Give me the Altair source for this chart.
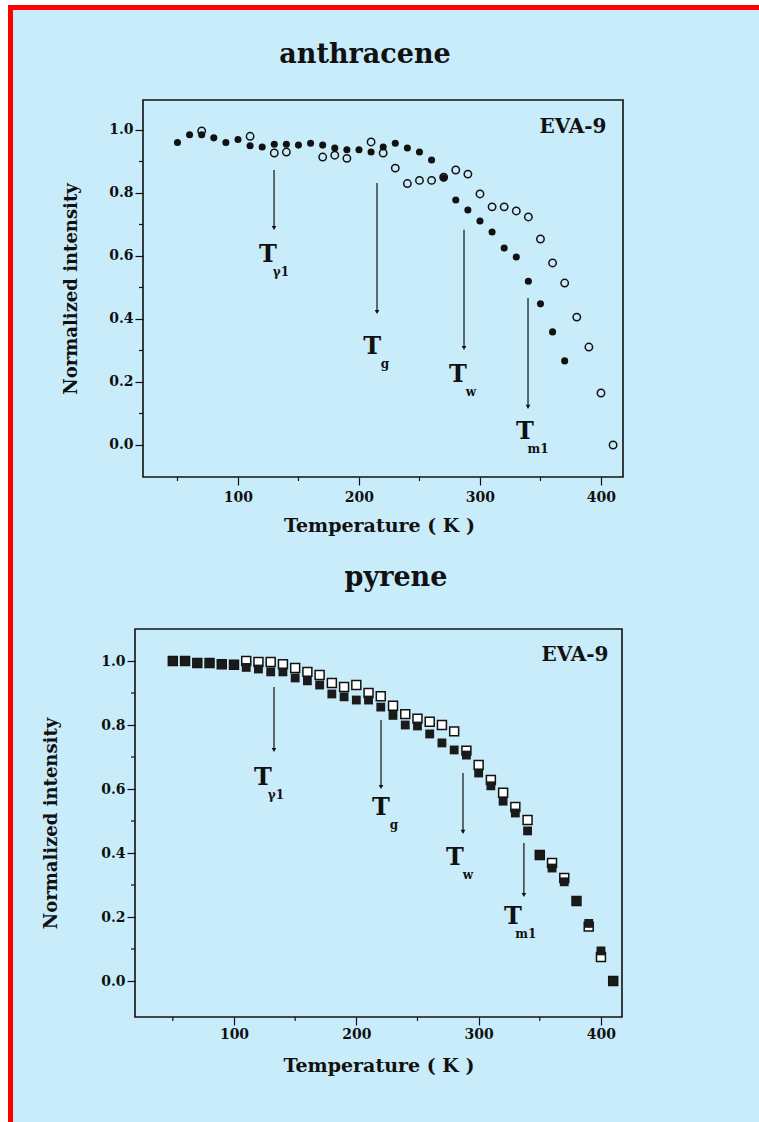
import altair as alt
import pandas as pd

BG = "#c9ecfa"
INK = "#111111"
FONT = "DejaVu Serif"

# ---------------- data ----------------
temps = [50, 60, 70, 80, 90, 100, 110, 120, 130, 140, 150, 160, 170, 180, 190,
         200, 210, 220, 230, 240, 250, 260, 270, 280, 290, 300, 310, 320, 330,
         340, 350, 360, 370, 380, 390, 400, 410]

anth_filled_temps = temps[:33]
anth_filled = [0.96, 0.985, 0.985, 0.975, 0.96, 0.97, 0.95, 0.946, 0.955, 0.955,
               0.952, 0.958, 0.952, 0.943, 0.937, 0.937, 0.93, 0.946, 0.958, 0.943,
               0.93, 0.905, 0.848, 0.778, 0.746, 0.711, 0.676, 0.625, 0.597, 0.52,
               0.448, 0.359, 0.267]
# open symbols that are visible (the rest are hidden under the filled ones)
anth_open_temps = [70, 110, 130, 140, 170, 180, 190, 210, 220, 230, 240, 250, 260,
                   270, 280, 290, 300, 310, 320, 330, 340, 350, 360, 370, 380, 390,
                   400, 410]
anth_open = [0.997, 0.98, 0.927, 0.93, 0.914, 0.92, 0.91, 0.962, 0.927, 0.879,
             0.83, 0.84, 0.84, 0.85, 0.873, 0.86, 0.797, 0.756, 0.756, 0.743,
             0.724, 0.654, 0.578, 0.514, 0.406, 0.311, 0.165, 0.0]

pyr_filled = [1.0, 1.0, 0.994, 0.994, 0.99, 0.988, 0.98, 0.975, 0.966, 0.966,
              0.947, 0.938, 0.925, 0.897, 0.888, 0.878, 0.878, 0.856, 0.83, 0.8,
              0.797, 0.772, 0.744, 0.722, 0.706, 0.65, 0.61, 0.562, 0.525, 0.469,
              0.394, 0.353, 0.31, 0.25, 0.18, 0.094, 0.0]
pyr_open = [1.0, 1.0, 0.994, 0.994, 0.99, 0.988, 1.0, 0.997, 0.997, 0.99,
            0.978, 0.966, 0.956, 0.931, 0.919, 0.925, 0.9, 0.89, 0.86, 0.834,
            0.82, 0.81, 0.8, 0.78, 0.72, 0.675, 0.628, 0.588, 0.544, 0.503,
            0.394, 0.369, 0.322, 0.25, 0.17, 0.075, 0.0]

subscripts = ["γ1", "g", "w", "m1"]

anth_arrow_T = [129.8, 214.9, 286.8, 339.7]
anth_arrow_start = [0.873, 0.832, 0.683, 0.467]
anth_arrow_end = [0.689, 0.422, 0.308, 0.121]
anth_label_T = [124.8, 210.8, 281.8, 337.2]
anth_label_v = [0.603, 0.311, 0.222, 0.041]

pyr_arrow_T = [132.7, 220.2, 287.2, 337.0]
pyr_arrow_start = [0.919, 0.816, 0.65, 0.431]
pyr_arrow_end = [0.722, 0.606, 0.466, 0.269]
pyr_label_T = [123.7, 220.2, 280.7, 328.0]
pyr_label_v = [0.634, 0.541, 0.384, 0.2]

x_major = [100, 200, 300, 400]
x_minor = [50, 150, 250, 350]
y_major = [0.0, 0.2, 0.4, 0.6, 0.8, 1.0]
y_minor = [0.1, 0.3, 0.5, 0.7, 0.9]

one = pd.DataFrame({"k": [0]})


def prect(x, x2, y, y2, color):
    return alt.Chart(one).mark_rect(color=color).encode(
        x=alt.value(x), x2=alt.value(x2), y=alt.value(y), y2=alt.value(y2))


def panel(name, filled_T, filled_v, open_T, open_v, square,
          aT, a0, a1, lT, lv, xdom, ydom, W, H, frame_x0,
          title_xy, eva_xy, y_title_pad, x_label_pad, x_title_pad, strips):
    def xenc(field):
        return alt.X(f"{field}:Q",
                     scale=alt.Scale(domain=xdom, nice=False, zero=False),
                     axis=alt.Axis(values=x_major, format="d", tickSize=8,
                                   labelPadding=x_label_pad, domain=False, grid=False,
                                   title="Temperature ( K )", titleFontSize=19,
                                   titlePadding=x_title_pad, zindex=1))

    def yenc(field):
        return alt.Y(f"{field}:Q",
                     scale=alt.Scale(domain=ydom, nice=False, zero=False),
                     axis=alt.Axis(values=y_major, format=".1f", tickSize=8,
                                   labelPadding=2, domain=False, grid=False,
                                   offset=-frame_x0,
                                   title="Normalized intensity", titleFontSize=18,
                                   titlePadding=y_title_pad, zindex=1))

    layers = []
    layers += [prect(*s) for s in strips]
    # frame
    layers.append(alt.Chart(one).mark_rect(fillOpacity=0, stroke=INK, strokeWidth=1.6).encode(
        x=alt.value(frame_x0), x2=alt.value(W), y=alt.value(0), y2=alt.value(H)))
    # minor ticks
    layers.append(alt.Chart(pd.DataFrame({"m": x_minor})).mark_rule(color=INK, strokeWidth=1.2).encode(
        x=xenc("m"), y=alt.value(H), y2=alt.value(H + 4)))
    layers.append(alt.Chart(pd.DataFrame({"m": y_minor})).mark_rule(color=INK, strokeWidth=1.2).encode(
        y=yenc("m"), x=alt.value(frame_x0 - 4), x2=alt.value(frame_x0)))

    arrows = pd.DataFrame({"T": aT, "v0": a0, "v1": a1})
    layers.append(alt.Chart(arrows).mark_rule(color=INK, strokeWidth=1.2).encode(
        x=xenc("T"), y=yenc("v0"), y2="v1:Q"))
    layers.append(alt.Chart(arrows).mark_point(shape="triangle-down", filled=True, color=INK,
                                               size=22, opacity=1).encode(
        x=xenc("T"), y=yenc("v1")))

    odf = pd.DataFrame({"T": open_T, "v": open_v})
    fdf = pd.DataFrame({"T": filled_T, "v": filled_v})
    if square:
        layers.append(alt.Chart(odf).mark_square(size=80, fill="white", stroke=INK,
                                                 strokeWidth=1.5, opacity=1).encode(
            x=xenc("T"), y=yenc("v")))
        layers.append(alt.Chart(fdf).mark_square(size=78, color="#1a1a1a", opacity=1).encode(
            x=xenc("T"), y=yenc("v")))
    else:
        layers.append(alt.Chart(odf).mark_point(shape="circle", size=55, filled=False,
                                                stroke=INK, strokeWidth=1.5, opacity=1).encode(
            x=xenc("T"), y=yenc("v")))
        layers.append(alt.Chart(fdf).mark_point(shape="circle", size=50, filled=True,
                                                color=INK, opacity=1).encode(
            x=xenc("T"), y=yenc("v")))

    labels = pd.DataFrame({"T": lT, "v": lv, "s": subscripts})
    layers.append(alt.Chart(labels).mark_text(text="T", font=FONT, fontWeight="bold",
                                              fontSize=24, color=INK, baseline="middle",
                                              align="center").encode(
        x=xenc("T"), y=yenc("v")))
    layers.append(alt.Chart(labels).mark_text(font=FONT, fontWeight="bold", fontSize=12,
                                              color=INK, baseline="middle", align="center",
                                              dx=13, dy=17).encode(
        x=xenc("T"), y=yenc("v"), text="s:N"))

    layers.append(alt.Chart(one).mark_text(text=name, font=FONT, fontWeight="bold",
                                           fontSize=27, color=INK, baseline="middle",
                                           align="center").encode(
        x=alt.value(title_xy[0]), y=alt.value(title_xy[1])))
    layers.append(alt.Chart(one).mark_text(text="EVA-9", font=FONT, fontWeight="bold",
                                           fontSize=20, color=INK, baseline="middle",
                                           align="center").encode(
        x=alt.value(eva_xy[0]), y=alt.value(eva_xy[1])))

    return alt.layer(*layers).properties(width=W, height=H)


# Top panel: plot origin at page (135, 100); frame starts 8 px in.
top_strips = [
    (-135, -127, -100, 450, "white"),
    (-135, 624, -100, -95, "white"),
    (-127, -122, -95, 450, "#ff0000"),
    (-127, 624, -95, -90, "#ff0000"),
]
# Bottom panel: plot origin at page (135, 629).
bot_strips = [
    (-135, -127, -79, 493, "white"),
    (-127, -122, -79, 493, "#ff0000"),
]

top = panel("anthracene", anth_filled_temps, anth_filled, anth_open_temps, anth_open, False,
            anth_arrow_T, anth_arrow_start, anth_arrow_end, anth_label_T, anth_label_v,
            [14.89, 418.2], [-0.1016, 1.0952], 488, 377, 8,
            (230, -45), (438, 27), 28, 5, 12, top_strips)

bottom = panel("pyrene", temps, pyr_filled, temps, pyr_open, True,
               pyr_arrow_T, pyr_arrow_start, pyr_arrow_end, pyr_label_T, pyr_label_v,
               [19.07, 417.2], [-0.1125, 1.1], 487, 388, 0,
               (261, -51), (440, 26), 40, 2, 15, bot_strips)

chart = alt.vconcat(top, bottom, spacing=0).properties(
    padding={"left": 0, "top": 0, "right": 0, "bottom": 0},
    background=BG,
).configure_view(strokeOpacity=0).configure_axis(
    labelFont=FONT, labelFontWeight="bold", labelFontSize=14, labelColor=INK,
    titleFont=FONT, titleFontWeight="bold", titleColor=INK,
    tickColor=INK, tickWidth=1.2,
)

chart.save("out.html", embed_options={"renderer": "svg", "actions": False})
